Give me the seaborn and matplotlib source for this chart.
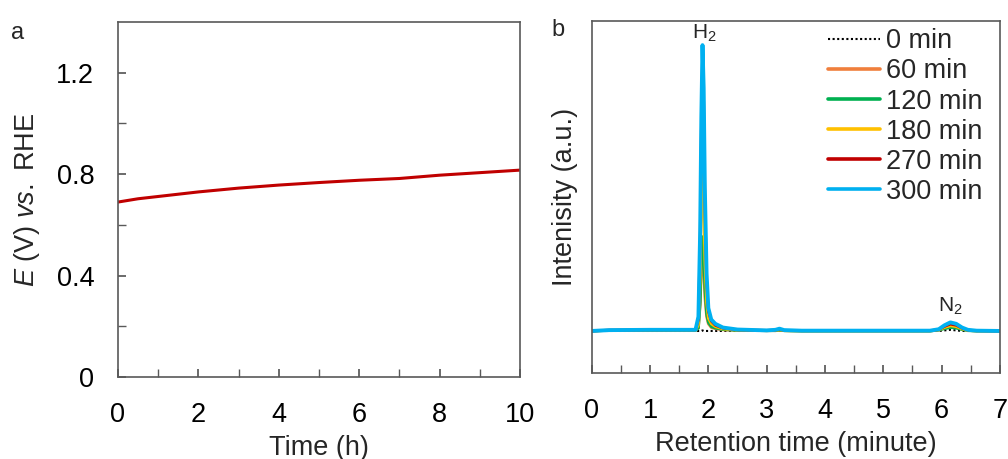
import matplotlib
matplotlib.use("Agg")
import matplotlib.pyplot as plt
import seaborn as sns
import pandas as pd

# ---------------- data ----------------
# panel a: potential vs time
time_h = [0, 0.5, 1, 2, 3, 4, 5, 6, 7, 8, 9, 10]
potential_v = [0.690, 0.703, 0.712, 0.730, 0.745, 0.757, 0.767, 0.776, 0.783, 0.796, 0.806, 0.816]

# panel b: chromatograms
retention = [0, 0.3, 1.0, 1.78, 1.83, 1.86, 1.88, 1.90, 1.92, 1.94, 1.97, 2.00, 2.05, 2.12, 2.25,
             2.5, 3.0, 3.15, 3.22, 3.3, 3.6, 5.8, 5.95, 6.05, 6.15, 6.25, 6.35, 6.45, 6.6, 7.0]
i_0 = [0, 0, 0, 0, 0, 0, 0, 0.002, 0, 0, 0, 0, 0, 0, 0,
       0, 0, 0, 0, 0, 0, 0, 0, 0.002, 0.004, 0.002, 0, 0, 0, 0]
i_60 = [0, .002, .002, .002, .01, .09, .21, .27, .22, .12, .05, .025, .012, .008, .004,
        .002, .001, .001, .002, .001, 0, 0, .003, .010, .015, .012, .006, .002, 0, 0]
i_120 = [0, .002, .002, .002, .01, .10, .25, .33, .27, .15, .06, .030, .015, .010, .005,
         .002, .001, .001, .003, .001, 0, 0, .003, .008, .012, .010, .005, .001, 0, 0]
i_180 = [0, .002, .003, .003, .02, .18, .42, .55, .45, .25, .10, .045, .025, .015, .007,
         .003, .001, .002, .004, .001, 0, 0, .004, .012, .018, .015, .007, .002, 0, 0]
i_270 = [0, .003, .004, .004, .04, .32, .70, .95, .80, .46, .18, .070, .035, .020, .010,
         .004, .002, .003, .006, .002, .001, .001, .005, .016, .024, .020, .010, .003, .001, 0]
i_300 = [0, .003, .004, .004, .05, .35, .75, 1.0, .85, .50, .20, .080, .040, .025, .012,
         .005, .002, .004, .008, .003, .001, .001, .006, .020, .030, .025, .012, .004, .001, 0]

series_labels = ["0 min", "60 min", "120 min", "180 min", "270 min", "300 min"]
series_values = [i_0, i_60, i_120, i_180, i_270, i_300]
series_colors = ["black", "#F07F3C", "#00B050", "#FFC000", "#C00000", "#00B0F0"]

# ---------------- style ----------------
sns.set_theme(style="white")
plt.rcParams["font.family"] = ["Liberation Sans", "DejaVu Sans"]
plt.rcParams["mathtext.fontset"] = "custom"
plt.rcParams["mathtext.rm"] = "Liberation Sans"
plt.rcParams["mathtext.it"] = "Liberation Sans:italic"
plt.rcParams["mathtext.default"] = "it"

spine_c = "#595959"
fs = 19.5

fig = plt.figure(figsize=(10.08, 4.59), dpi=100)
ax1 = fig.add_axes([0.117, 0.1786, 0.399, 0.7734])
ax2 = fig.add_axes([0.587, 0.1874, 0.405, 0.7666])

# panel a
df_a = pd.DataFrame({"t": time_h, "E": potential_v})
sns.lineplot(data=df_a, x="t", y="E", ax=ax1, color="#C00000", lw=2.2)
ax1.set_xlim(0, 10)
ax1.set_ylim(0, 1.4)
ax1.set_xticks([0, 2, 4, 6, 8, 10])
ax1.set_xticks(range(0, 11), minor=True)
ax1.set_yticks([0, 0.4, 0.8, 1.2])
ax1.set_yticklabels(["0", "0.4", "0.8", "1.2"])
ax1.set_yticks([0.2, 0.6, 1.0], minor=True)
ax1.set_xlabel("Time (h)", fontsize=fs, labelpad=5)
ax1.set_ylabel("$E$ (V) $vs.$ RHE", fontsize=fs)
ax1.yaxis.set_label_coords(-0.189, 0.5)

# panel b
rows = []
for lab, vals in zip(series_labels, series_values):
    for x, y in zip(retention, vals):
        rows.append({"rt": x, "I": y, "series": lab})
df_b = pd.DataFrame(rows)
for lab, col in zip(series_labels, series_colors):
    sub = df_b[df_b["series"] == lab]
    if lab == "0 min":
        sns.lineplot(data=sub, x="rt", y="I", ax=ax2, color=col, lw=1.5, ls=(0, (1, 1.2)), label=lab)
    else:
        lw = 2.8 if lab == "300 min" else 2.0
        sns.lineplot(data=sub, x="rt", y="I", ax=ax2, color=col, lw=lw, label=lab)
ax2.set_xlim(0, 7)
ax2.set_ylim(-0.147, 1.084)
ax2.set_xticks(range(0, 8))
ax2.set_xticks([i * 0.5 for i in range(15)], minor=True)
ax2.set_yticks([])
ax2.set_xlabel("Retention time (minute)", fontsize=fs, labelpad=5)
ax2.set_ylabel("Intenisity (a.u.)", fontsize=fs)
ax2.yaxis.set_label_coords(-0.034, 0.5)
ax2.text(1.93, 1.005, r"H$_\mathregular{2}$", ha="center", va="bottom", fontsize=15)
ax2.text(6.15, 0.05, r"N$_\mathregular{2}$", ha="center", va="bottom", fontsize=15)
leg = ax2.legend(loc="upper right", frameon=False, fontsize=fs, handlelength=1.9,
                 handletextpad=0.25, labelspacing=0.15, borderaxespad=0.0,
                 bbox_to_anchor=(0.985, 1.01))
for h in leg.get_lines()[1:]:
    h.set_linewidth(2.6)

for ax in (ax1, ax2):
    for s in ax.spines.values():
        s.set_color(spine_c)
        s.set_linewidth(1.2)
    ax.tick_params(axis="both", which="both", direction="in", colors=spine_c,
                   labelcolor="black", labelsize=fs)
    ax.tick_params(axis="x", which="both", pad=18)
    ax.tick_params(axis="y", which="both", pad=17)
    ax.tick_params(which="major", length=6)
    ax.tick_params(which="minor", length=6)
    ax.xaxis.set_tick_params(which="both", bottom=True)
    ax.yaxis.set_tick_params(which="both", left=True)

fig.text(0.011, 0.915, "a", fontsize=17)
fig.text(0.547, 0.922, "b", fontsize=17)

fig.savefig("out.png", dpi=100)
